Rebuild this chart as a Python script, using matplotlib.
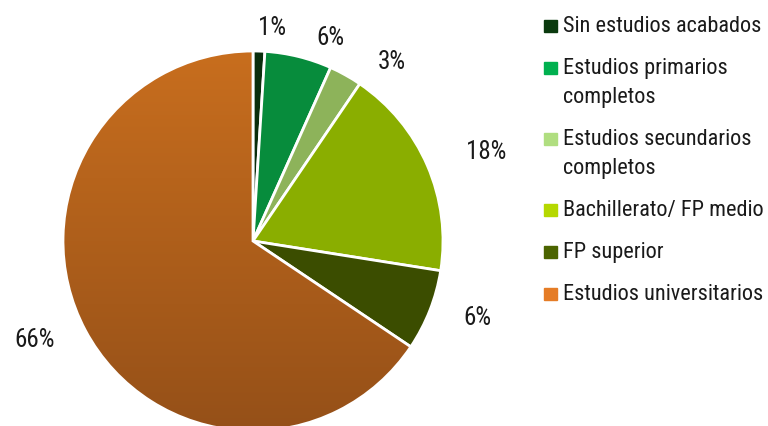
import numpy as np
import matplotlib.pyplot as plt
from matplotlib.patches import Rectangle

plt.rcParams['font.family'] = ['Roboto Condensed', 'Liberation Sans Narrow', 'Liberation Sans', 'DejaVu Sans']

categories = ['Sin estudios acabados', 'Estudios primarios\ncompletos',
              'Estudios secundarios\ncompletos', 'Bachillerato/ FP medio',
              'FP superior', 'Estudios universitarios']
values = [1.0, 5.7, 2.8, 18.0, 6.9, 65.6]
pct_labels = ['1%', '6%', '3%', '18%', '6%', '66%']

pie_colors = ['#0a2e0c', '#078c3c', '#8db35a', '#8aae00', '#3b4d00', '#b8631c']
legend_colors = ['#0a3a0e', '#00b04f', '#b0de80', '#b5d800', '#4b6400', '#e57c26']
# label placement tweaks (radius, angle shift in degrees)
label_dist = [1.13, 1.15, 1.2, 1.315, 1.25, 1.26]
label_shift = [-3.3, -6.8, -8.5, -2.3, 2.7, -3.9]

W, H = 768, 427
cx, cy, R = 253, 185, 190

fig = plt.figure(figsize=(W / 100, H / 100), dpi=100)
ax = fig.add_axes([0, 0, 1, 1])

wedges, _ = ax.pie(values, colors=pie_colors, startangle=90, counterclock=False,
                   radius=1, wedgeprops=dict(edgecolor='white', linewidth=2))

# vertical gradient on the big slice
grad = np.linspace(0, 1, 256).reshape(-1, 1)
top = np.array([0xc8, 0x6e, 0x1e]) / 255
bot = np.array([0x95, 0x50, 0x18]) / 255
img = top + (bot - top) * grad[:, :, None] * np.ones((1, 2, 1))
im = ax.imshow(img, extent=[-1, 1, -1, 1], origin='upper', aspect='auto', zorder=1.5)
im.set_clip_path(wedges[-1])
wedges[-1].set_facecolor('none')
wedges[-1].set_zorder(1.6)

ax.set_xlim(-cx / R, (W - cx) / R)
ax.set_ylim(-cy / R, (H - cy) / R)
ax.set_aspect('equal')
ax.axis('off')

for w, lab, d, s in zip(wedges, pct_labels, label_dist, label_shift):
    ang = np.deg2rad((w.theta1 + w.theta2) / 2 + s)
    ax.text(d * np.cos(ang), d * np.sin(ang), lab, ha='center', va='center',
            fontsize=18, color='#1a1a1a')

# legend
y = 32
for cat, col in zip(categories, legend_colors):
    fig.patches.append(Rectangle((544 / W, 1 - (y + 1) / H), 13 / W, 12 / H,
                                 transform=fig.transFigure, color=col))
    for line in cat.split('\n'):
        fig.text(563 / W, 1 - y / H, line, fontsize=16, color='#1a1a1a',
                 va='baseline', ha='left')
        y += 29
    y += 13

fig.savefig('out.png', dpi=100)
